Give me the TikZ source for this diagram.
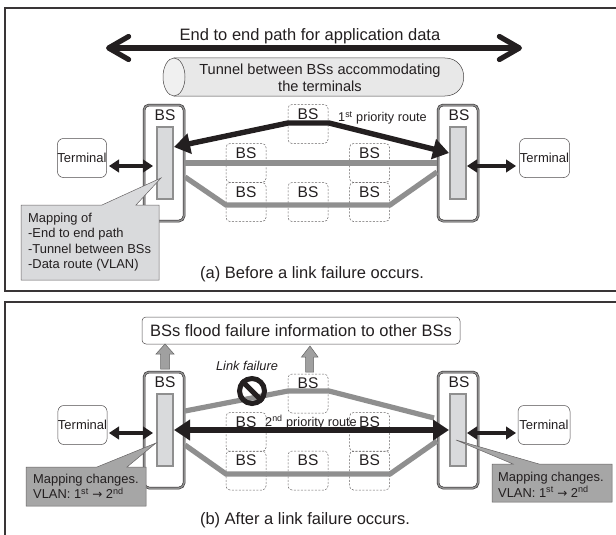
\documentclass[tikz,border=0pt]{standalone}
\usepackage{fontspec}
\setmainfont{Liberation Sans}
\newfontfamily\arrowfont{DejaVu Sans}
\usetikzlibrary{arrows.meta}
\definecolor{ink}{HTML}{231F20}
\definecolor{route}{HTML}{8F8F8F}
\definecolor{bsfill}{HTML}{D9DADC}
\tikzset{
  frameline/.style={draw=ink!90,line width=1.4pt},
  bsouter/.style={draw=ink,line width=.5pt,double=route,double distance=1.5pt,rounded corners=5pt,minimum width=40pt,minimum height=116pt,inner sep=0pt,fill=white},
  bsinner/.style={draw=route,line width=1.2pt,fill=bsfill,minimum width=16pt,minimum height=72pt,inner sep=0pt},
  lbl/.style={font=\fontsize{15.5}{17}\selectfont,text=ink,inner sep=0pt},
  terminal/.style={draw=ink!80,line width=.5pt,rounded corners=6pt,fill=white,minimum height=39pt,inner sep=0pt,font=\fontsize{13}{15}\selectfont,text=ink},
  dashbox/.style={draw=ink!70,dash pattern=on 2pt off 1.5pt,line width=.5pt,rounded corners=4pt,minimum width=40pt,minimum height=39pt,inner sep=0pt},
  biglink/.style={draw=ink,line width=5.4pt,{Straight Barb[length=20pt,width=23pt,line width=5.2pt,round]}-{Straight Barb[length=20pt,width=23pt,line width=5.2pt,round]}},
  termlink/.style={draw=ink,line width=3.4pt,{Triangle[length=10pt,width=12.5pt]}-{Triangle[length=10pt,width=12.5pt]}},
  prioroute/.style={draw=ink,line width=5.4pt,line join=miter,{Triangle[length=16pt,width=20pt]}-{Triangle[length=16pt,width=20pt]}},
  grayroute/.style={draw=route,line width=5.2pt,line join=miter},
  uparrow/.style={draw=route!70!black,line width=.5pt,fill=route!85!white},
  note/.style={font=\fontsize{12.9}{15.5}\selectfont,text=ink,align=left,inner sep=0pt,anchor=north west},
  small/.style={font=\fontsize{12.7}{14}\selectfont,text=ink,inner sep=0pt},
  caption/.style={font=\fontsize{16.5}{18}\selectfont,text=ink,inner sep=0pt},
}
\newcommand{\bsdash}[3]{\node[dashbox,label={[lbl,anchor=north,yshift=-4pt]north:BS}] (#1) at (#2,#3) {};}
\newcommand{\supr}[1]{\textsuperscript{#1}}
\newcommand{\toarrow}{{\arrowfont\fontsize{12}{14}\selectfont →}}
\begin{document}
\begin{tikzpicture}[x=1pt,y=-1pt]
\useasboundingbox (0,0) rectangle (616,535);
% panel frames
\coordinate (fa1) at (616,8); \coordinate (fa2) at (5,8); \coordinate (fa3) at (5,291); \coordinate (fa4) at (616,291);
\draw[frameline] (fa1) -- (fa2) -- (fa3) -- (fa4);
\coordinate (fb1) at (616,302); \coordinate (fb2) at (5,302); \coordinate (fb3) at (5,535);
\draw[frameline] (fb1) -- (fb2) -- (fb3);

%%% PANEL A
\node[lbl,font=\fontsize{16.5}{18}\selectfont] (title) at (310,36) {End to end path for application data};
\coordinate (endL) at (106,48); \coordinate (endR) at (522,48);
\draw[biglink] (endL) -- (endR);
% tunnel
\draw[draw=ink!85,line width=.5pt,fill=black!9] (174,58) -- (445,58) .. controls (470,58) and (470,96) .. (445,96) -- (174,96) -- cycle;
\draw[draw=ink!85,line width=.5pt,fill=black!6] (174,77) ellipse[x radius=11,y radius=19];
\node[lbl,align=center,font=\fontsize{14.6}{17.5}\selectfont] (tunnel) at (320,78) {Tunnel between BSs accommodating\\the terminals};
% BS stations
\node[bsouter] (bsAL) at (164,163) {};
\node[bsouter] (bsAR) at (458,163) {};
\node[lbl,anchor=north] (bsALt) at (165,109) {BS};
\node[lbl,anchor=north] (bsARt) at (459,109) {BS};
\node[bsinner] (inAL) at (165,163) {};
\node[bsinner] (inAR) at (458,163) {};
% relay BSs
\bsdash{a1}{246}{163}
\bsdash{a2}{246}{202}
\bsdash{a3}{308}{124}
\bsdash{a4}{308}{202}
\bsdash{a5}{369.5}{163}
\bsdash{a6}{369.5}{202}
% terminals
\node[terminal,minimum width=48pt] (tAL) at (82,158) {Terminal};
\node[terminal,minimum width=50pt] (tAR) at (544.5,158) {Terminal};
\coordinate (lnk1) at (109,166); \coordinate (lnk2) at (153,166);
\coordinate (lnk3) at (467,166); \coordinate (lnk4) at (516,166);
\draw[termlink] (lnk1) -- (lnk2);
\draw[termlink] (lnk3) -- (lnk4);
% routes
\coordinate (g1) at (185,163); \coordinate (g2) at (437,163);
\draw[grayroute] (g1) -- (g2);
\coordinate (g3) at (185,177); \coordinate (g4) at (226,205); \coordinate (g5) at (390,205); \coordinate (g6) at (437,172);
\draw[grayroute] (g3) -- (g4) -- (g5) -- (g6);
\coordinate (b1) at (174,147); \coordinate (b2) at (288,123); \coordinate (b3) at (329,123); \coordinate (b4) at (449,153);
\draw[prioroute] (b1) -- (b2) -- (b3) -- (b4);
\node[small,anchor=west] (prioA) at (338,118) {1\supr{st} priority route};
% callout
\coordinate (ca1) at (21,205); \coordinate (ca2) at (21,280); \coordinate (ca3) at (159,280); \coordinate (ca4) at (159,205); \coordinate (ca5) at (136,205); \coordinate (ca6) at (161,178); \coordinate (ca7) at (102,205);
\fill[bsfill,draw=ink!70,line width=.5pt] (ca1) -- (ca2) -- (ca3) -- (ca4) -- (ca5) -- (ca6) -- (ca7) -- cycle;
\node[note] (mapA) at (28,212.5) {Mapping of\\-End to end path\\-Tunnel between BSs\\-Data route (VLAN)};
\node[caption] (capA) at (312,274) {(a) Before a link failure occurs.};

%%% PANEL B
\node[draw=ink!80,line width=.5pt,rounded corners=4pt,fill=white,minimum width=318pt,minimum height=27pt,inner sep=0pt,font=\fontsize{16.5}{18}\selectfont,text=ink] (flood) at (301,330.5) {BSs flood failure information to other BSs};
\fill[uparrow] (160.5,369) -- (160.5,354) -- (156,354) -- (165,344) -- (174,354) -- (169.5,354) -- (169.5,369) -- cycle;
\fill[uparrow] (305.5,372) -- (305.5,357) -- (301.5,357) -- (310,346) -- (318,357) -- (313.5,357) -- (313.5,372) -- cycle;
\node[bsouter] (bsBL) at (164,430) {};
\node[bsouter] (bsBR) at (458,430) {};
\node[lbl,anchor=north] (bsBLt) at (165,376) {BS};
\node[lbl,anchor=north] (bsBRt) at (459,376) {BS};
\node[bsinner] (inBL) at (165,430) {};
\node[bsinner] (inBR) at (458,430) {};
\bsdash{b1n}{246}{432}
\bsdash{b2n}{246}{470.5}
\bsdash{b3n}{308}{393.5}
\bsdash{b4n}{308}{470.5}
\bsdash{b5n}{369.5}{432}
\bsdash{b6n}{369.5}{470.5}
\node[terminal,minimum width=49pt] (tBL) at (82.5,425) {Terminal};
\node[terminal,minimum width=52pt] (tBR) at (544,425) {Terminal};
\coordinate (lnk5) at (109,433); \coordinate (lnk6) at (153,433);
\coordinate (lnk7) at (467,433); \coordinate (lnk8) at (516,433);
\draw[termlink] (lnk5) -- (lnk6);
\draw[termlink] (lnk7) -- (lnk8);
\coordinate (h1) at (185,411); \coordinate (h2) at (288,391); \coordinate (h3) at (329,391); \coordinate (h4) at (434,418);
\draw[grayroute] (h1) -- (h2) -- (h3) -- (h4);
\coordinate (h5) at (185,445); \coordinate (h6) at (226,474); \coordinate (h7) at (390,474); \coordinate (h8) at (437,441);
\draw[grayroute] (h5) -- (h6) -- (h7) -- (h8);
\node[small,anchor=west] (prioB) at (265,422) {2\supr{nd} priority route};
\coordinate (k1) at (174,430); \coordinate (k2) at (449,430);
\draw[prioroute] (k1) -- (k2);
% no sign
\node[draw=ink,line width=5pt,circle,minimum size=25pt,inner sep=0pt] (nosign) at (252,391) {};
\draw[ink,line width=5pt] (nosign.north west) -- (nosign.south east);
\node[font=\fontsize{12.8}{14}\itshape\selectfont,text=ink,inner sep=0pt] (lf) at (247,366) {Link failure};
% callouts
\fill[black!35,draw=ink!70,line width=.5pt] (26,467) -- (26,506) -- (146,506) -- (146,467) -- (127,467) -- (156,443) -- (97,467) -- cycle;
\node[note] (mapBL) at (33,473.5) {Mapping changes.\\VLAN: 1\supr{st} \toarrow{} 2\supr{nd}};
\fill[black!35,draw=ink!70,line width=.5pt] (492,464) -- (492,502) -- (612,502) -- (612,464) -- (539,464) -- (456,440) -- (513,464) -- cycle;
\node[note] (mapBR) at (498,472) {Mapping changes.\\VLAN: 1\supr{st} \toarrow{} 2\supr{nd}};
\node[caption] (capB) at (305,520) {(b) After a link failure occurs.};
\end{tikzpicture}
\end{document}
